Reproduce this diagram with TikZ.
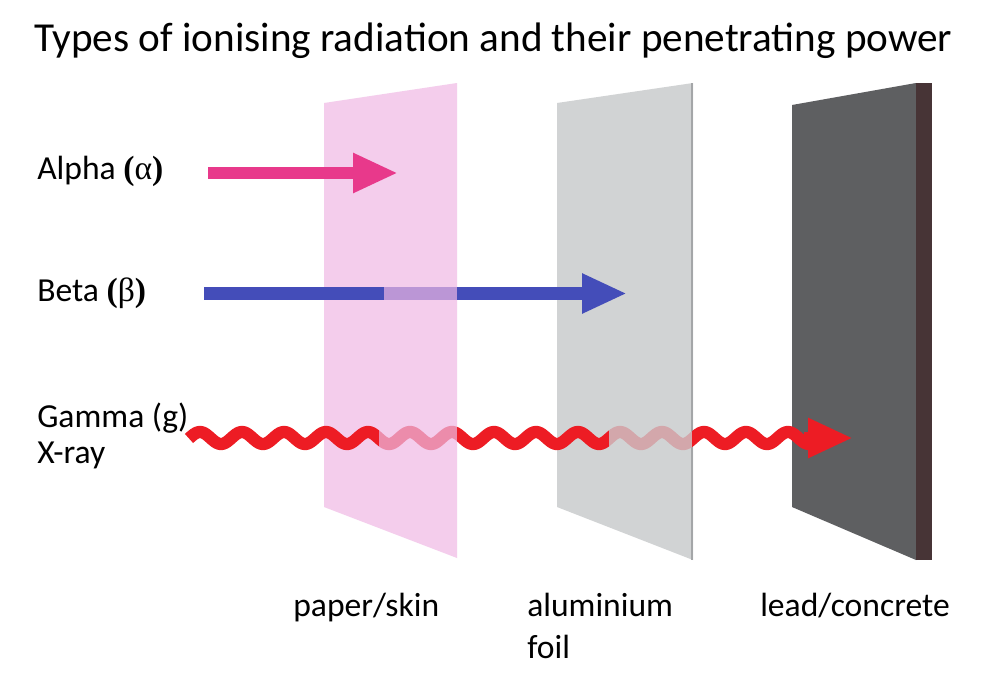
\documentclass[tikz,border=0pt]{standalone}
\usepackage{fontspec}
\setmainfont{Carlito}
\newfontfamily\grk{Liberation Serif}
\usetikzlibrary{arrows.meta}
\definecolor{paperc}{HTML}{F4CDEC}
\definecolor{aluc}{HTML}{D1D3D4}
\definecolor{aluedge}{HTML}{A4A6A8}
\definecolor{leadc}{HTML}{5E5F61}
\definecolor{leadside}{HTML}{473436}
\definecolor{alphac}{HTML}{E8398B}
\definecolor{betac}{HTML}{444DB9}
\definecolor{betalight}{HTML}{BB96D6}
\definecolor{gammac}{HTML}{ED1C24}
\definecolor{gammapink}{HTML}{EC8CAB}
\definecolor{gammagrey}{HTML}{D3A7AB}
\newcommand\gwave[1]{\draw[#1, line width=9.2pt] plot[domain=189:812, samples=400, smooth] (\x, {438-6*sin(((\x-189.5)/42)*360)});}
\begin{document}
\begin{tikzpicture}[x=0.75pt,y=-0.75pt,
  lbl/.style={anchor=base west, inner sep=0pt, font=\fontsize{25.2}{30}\selectfont},
  ray/.style={line width=#1},
  tip/.style={-{Triangle[length=33.75pt,width=27.75pt]}}]
\useasboundingbox (0,0) rectangle (1000,675);
\fill[white] (0,0) rectangle (1000,675);
% title
\node[anchor=base west, inner sep=0pt, font=\fontsize{30.9}{36}\selectfont] (title) at (34,51) {Types of ionising radiation and their penetrating power};
% plates
\fill[paperc] (324,103) -- (457,83) -- (457,558) -- (324,507) -- cycle;
\fill[aluc] (557,103) -- (693,83) -- (693,560) -- (557,507) -- cycle;
\draw[aluedge, line width=1.5pt] (692,83) -- (692,560);
\fill[leadc] (792,105) -- (916,83) -- (916,560) -- (792,507) -- cycle;
\fill[leadside] (916,83) rectangle (932,560);
% labels
\node[lbl] (alab) at (37,179) {Alpha {\grk\textbf{(}α\textbf{)}}};
\node[lbl] (blab) at (37,301) {Beta {\grk\textbf{(}β\textbf{)}}};
\node[lbl] (glab) at (37,427) {Gamma (g)};
\node[lbl] (xlab) at (37,463) {X-ray};
\node[lbl] (plab) at (293,616) {paper/skin};
\node[lbl] (allab) at (527,616) {aluminium};
\node[lbl] (flab) at (527,658) {foil};
\node[lbl] (llab) at (760,616) {lead/concrete};
% alpha
\coordinate (a0) at (208,173);
\coordinate (a1) at (398,173);
\draw[alphac, ray=9pt, tip] (a0) -- (a1);
% beta
\coordinate (b0) at (204,293.5);
\coordinate (b1) at (384,293.5);
\coordinate (b2) at (457,293.5);
\coordinate (b3) at (627,293.5);
\draw[betac, ray=9.75pt] (b0) -- (b1);
\draw[betalight, ray=9.75pt] (b1) -- (b2);
\draw[betac, ray=9.75pt, tip] (b2) -- (b3);
% gamma
\begin{scope}
\clip (180,400) rectangle (379,480);
\gwave{gammac}
\end{scope}
\begin{scope}
\clip (379,400) rectangle (457,480);
\gwave{gammapink}
\end{scope}
\begin{scope}
\clip (457,400) rectangle (609,480);
\gwave{gammac}
\end{scope}
\begin{scope}
\clip (609,400) rectangle (692,480);
\gwave{gammagrey}
\end{scope}
\begin{scope}
\clip (692,400) rectangle (812,480);
\gwave{gammac}
\end{scope}
\coordinate (g0) at (804,438);
\coordinate (g1) at (853,438);
\draw[gammac, ray=9pt, tip] (g0) -- (g1);
\end{tikzpicture}
\end{document}
